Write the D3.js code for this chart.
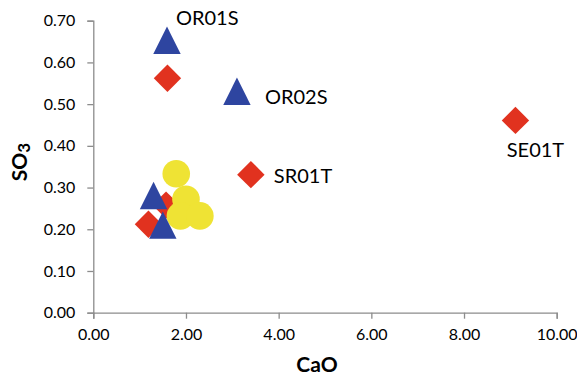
<!DOCTYPE html>
<html>
<head>
<meta charset="utf-8">
<script src="https://cdn.jsdelivr.net/npm/d3@7"></script>
<style>
  html, body { margin: 0; padding: 0; background: #fff; }
  svg { display: block; }
  text { font-family: Lato, "Liberation Sans", sans-serif; fill: #000; }
</style>
</head>
<body>
<div id="chart"></div>
<script>
// Sample oxide contents: CaO (x) against SO3 (y)
const diamondNames = ["", "SE01T", "SR01T", "", ""];
const diamondCaO   = [1.60, 9.11, 3.40, 1.19, 1.57];
const diamondSO3   = [0.562, 0.461, 0.331, 0.212, 0.258];

const triangleNames = ["OR01S", "OR02S", "", ""];
const triangleCaO   = [1.59, 3.10, 1.30, 1.50];
const triangleSO3   = [0.653, 0.531, 0.281, 0.210];

const circleCaO = [1.79, 2.00, 1.88, 2.30];
const circleSO3 = [0.333, 0.272, 0.232, 0.232];

const xTicks = [0, 2, 4, 6, 8, 10];
const yTicks = [0, 0.1, 0.2, 0.3, 0.4, 0.5, 0.6, 0.7];

const W = 577, H = 379;
const svg = d3.select("#chart").append("svg").attr("width", W).attr("height", H);

const x = d3.scaleLinear().domain([0, 10]).range([93.3, 556.7]);
const y = d3.scaleLinear().domain([0, 0.7]).range([312.7, 20.7]);

const axisColor = "#8c8c8c";

// Axes
const gx = svg.append("g").attr("transform", `translate(0,${y(0)})`)
  .call(d3.axisBottom(x).tickValues(xTicks).tickFormat(d3.format(".2f")).tickSize(6).tickPadding(10));
const gy = svg.append("g").attr("transform", `translate(${x(0)},0)`)
  .call(d3.axisLeft(y).tickValues(yTicks).tickFormat(d3.format(".2f")).tickSize(6).tickPadding(12));
[gx, gy].forEach(g => {
  g.select(".domain").attr("stroke", axisColor).attr("stroke-width", 1.3);
  g.selectAll(".tick line").attr("stroke", axisColor).attr("stroke-width", 1.3);
  g.selectAll(".tick text").attr("font-family", "Lato, 'Liberation Sans', sans-serif")
    .attr("font-size", 16).attr("fill", "#000");
});

// Axis titles
svg.append("text").attr("x", 317).attr("y", 372)
  .attr("text-anchor", "middle").attr("font-size", 21).attr("font-weight", "bold").text("CaO");
const yTitle = svg.append("text")
  .attr("transform", `translate(27,162) rotate(-90)`)
  .attr("text-anchor", "middle").attr("font-size", 21).attr("font-weight", "bold");
yTitle.append("tspan").text("SO");
yTitle.append("tspan").attr("font-size", 17).attr("dy", 3).text("3");

// Marker shapes (half-size s)
const s = 13.7;
const diamondPath = `M0,${-s}L${s},0L0,${s}L${-s},0Z`;
const trianglePath = `M0,${-s}L${s},${s}L${-s},${s}Z`;

const red = "#e1321f", blue = "#2e45a0", yellow = "#efe334";

const diamonds = diamondCaO.map((v, i) => ({ x: v, y: diamondSO3[i], name: diamondNames[i] }));
const triangles = triangleCaO.map((v, i) => ({ x: v, y: triangleSO3[i], name: triangleNames[i] }));
const circles = circleCaO.map((v, i) => ({ x: v, y: circleSO3[i] }));

svg.append("g").selectAll("path").data(diamonds).join("path")
  .attr("d", diamondPath).attr("fill", red)
  .attr("transform", d => `translate(${x(d.x)},${y(d.y)})`);

svg.append("g").selectAll("circle").data(circles).join("circle")
  .attr("cx", d => x(d.x)).attr("cy", d => y(d.y)).attr("r", 13.8).attr("fill", yellow);

svg.append("g").selectAll("path").data(triangles).join("path")
  .attr("d", trianglePath).attr("fill", blue)
  .attr("transform", d => `translate(${x(d.x)},${y(d.y)})`);

// Point labels: offset of the text from its marker
const labelOffset = {
  "OR01S": { dx: 9, dy: -15.5, anchor: "start" },
  "OR02S": { dx: 28, dy: 12.5, anchor: "start" },
  "SR01T": { dx: 23, dy: 8.5, anchor: "start" },
  "SE01T": { dx: 20, dy: 37, anchor: "middle" }
};
const labelled = diamonds.concat(triangles).filter(d => d.name);
svg.append("g").selectAll("text").data(labelled).join("text")
  .attr("x", d => x(d.x) + labelOffset[d.name].dx)
  .attr("y", d => y(d.y) + labelOffset[d.name].dy)
  .attr("text-anchor", d => labelOffset[d.name].anchor)
  .attr("font-size", 20)
  .text(d => d.name);
</script>
</body>
</html>
